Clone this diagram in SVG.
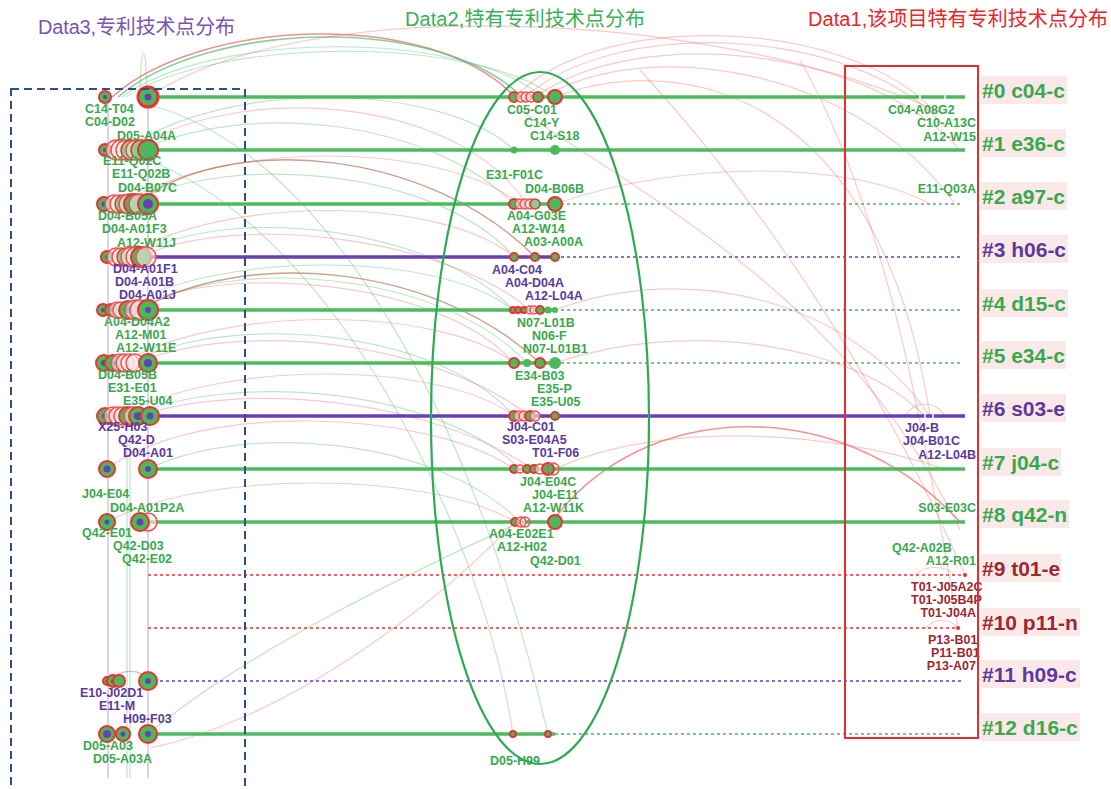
<svg xmlns="http://www.w3.org/2000/svg" width="1111" height="789" viewBox="0 0 1111 789">
<defs>
<style>
text{font-family:"Liberation Sans","Noto Sans CJK SC",sans-serif}
.lb{font-size:12.5px;font-weight:bold}
.e{text-anchor:end}
.g{fill:#3aa84e}.p{fill:#5b3a9e}.d{fill:#9b2a30}
.ttl{font-size:20px}
.rl{font-size:21px;font-weight:bold}
.rb{fill:#fbe6e6;fill-opacity:.92}
.n{fill:#4cb85c;stroke:#ee3030;stroke-width:2}
.rg{fill:#86cf90;stroke:#ee3030;stroke-width:1.5}
.r{fill:#fde9e9;fill-opacity:.6;stroke:#f05050;stroke-width:1.5}
.c{fill:#6a3fb4}
.ag{fill:none;stroke:#5cc07a;stroke-opacity:.4;stroke-width:1.2}
.ar{fill:none;stroke:#f06868;stroke-opacity:.35;stroke-width:1.2}
.ab{fill:none;stroke:#a0522d;stroke-opacity:.55;stroke-width:1.4}
.vl{stroke:#b79fdc;stroke-opacity:.7;stroke-width:1.3}
.vg{stroke:#8fd39c;stroke-opacity:.6;stroke-width:1.2}
.sg{stroke:#4cbb5c;stroke-width:3.5}
.sp{stroke:#6a3fb4;stroke-width:3.5}
.dg{stroke:#4cbb5c;stroke-width:1.6;stroke-dasharray:3 3}
.dp{stroke:#6a3fb4;stroke-width:1.6;stroke-dasharray:3 3}
.dr{stroke:#ee3030;stroke-width:1.6;stroke-dasharray:3 3}
</style>
</defs>
<rect width="1111" height="789" fill="#fff"/>

<g id="titles">
<text class="ttl" x="38" y="34" fill="#7b55b0" textLength="197">Data3,专利技术点分布</text>
<text class="ttl" x="405" y="26" fill="#3ab05a" textLength="240">Data2,特有专利技术点分布</text>
<text class="ttl" x="808" y="26" fill="#e8262a" textLength="300">Data1,该项目特有专利技术点分布</text>
</g>

<g id="connectors">
<line class="vl" x1="108" y1="100" x2="108" y2="778"/>
<line class="vl" x1="148" y1="100" x2="148" y2="778"/>
<line class="vg" x1="127" y1="440" x2="127" y2="778"/>
<line class="vg" x1="130" y1="440" x2="130" y2="778"/>
<path class="ag" d="M140 92 C141 40 146 40 147 92"/>
<path class="ar" style="stroke-opacity:.75;stroke-width:1.6" d="M112 97 C200 18 430 8 515 97"/>
<path class="ag" style="stroke-opacity:.75;stroke-width:1.6" d="M118 97 C205 22 435 12 522 97"/>
<path class="ag" d="M122 97 C210 32 460 28 543 97"/>
<path class="ag" d="M126 97 C215 38 470 34 555 97"/>
<path class="ar" d="M148 97 C300 -5 700 5 940 112"/>
<path class="ag" d="M125 150 C220 80 440 80 514 150"/>
<path class="ar" d="M132 150 C230 85 450 90 527 204"/>
<path class="ag" d="M140 150 C250 100 430 120 514 204"/>
<path class="ar" d="M122 204 C220 140 440 140 520 204"/>
<path class="ag" d="M130 204 C230 150 440 170 514 257"/>
<path class="ab" d="M135 204 C230 130 430 150 535 257"/>
<path class="ar" d="M125 257 C220 195 440 195 514 257"/>
<path class="ag" d="M133 257 C230 200 440 230 513 310"/>
<path class="ar" d="M140 257 C240 210 450 240 530 310"/>
<path class="ag" d="M118 310 C215 250 440 250 513 310"/>
<path class="ar" d="M125 310 C225 260 440 280 514 363"/>
<path class="ag" d="M135 310 C230 255 440 270 527 363"/>
<path class="ab" d="M140 310 C240 250 430 260 540 363"/>
<path class="ar" d="M122 363 C220 305 440 305 514 363"/>
<path class="ag" d="M130 363 C230 310 440 330 514 416"/>
<path class="ar" d="M137 363 C240 320 430 340 530 416"/>
<path class="ar" d="M120 416 C220 360 440 360 514 416"/>
<path class="ag" d="M130 416 C240 370 440 390 520 469"/>
<path class="ar" d="M138 416 C250 380 430 400 533 469"/>
<path class="ar" d="M107 469 C200 400 430 410 514 469"/>
<path class="ag" d="M148 469 C250 420 440 440 520 522"/>
<path class="ar" d="M107 522 C200 470 430 470 515 522"/>
<path class="ag" d="M150 105 C320 150 470 400 548 734"/>
<path class="ag" d="M148 160 C330 230 480 520 513 734"/>
<path class="ag" d="M148 734 C260 640 440 560 520 522"/>
<path class="ar" d="M150 748 C280 720 420 620 515 522"/>
<path class="vl" style="fill:none" d="M113 681 C118 668 143 668 148 681"/>
<path class="ar" d="M515 97 C600 8 850 18 935 112"/>
<path class="ar" d="M525 97 C620 14 860 28 945 127"/>
<path class="ar" d="M535 97 C640 22 870 48 960 150"/>
<path class="ar" d="M543 97 C650 34 860 70 955 204"/>
<path class="ar" d="M555 97 C680 50 880 90 930 416"/>
<path class="ar" d="M520 110 C650 200 850 300 960 530"/>
<path class="ar" d="M640 70 C760 200 880 380 965 575"/>
<path class="ar" d="M800 60 C880 200 920 400 958 628"/>
<path class="ar" d="M555 204 C680 160 850 160 930 204"/>
<path class="ar" d="M555 310 C690 260 850 300 930 416"/>
<path class="ar" d="M555 363 C680 320 850 340 925 416"/>
<path class="ar" style="stroke-opacity:.7;stroke-width:1.6" d="M552 522 C640 400 840 390 960 522"/>
<path class="ar" d="M555 469 C660 420 830 430 945 469"/>
<path class="ar" d="M905 416 C915 400 935 400 945 416"/>
<path class="ar" d="M915 575 C925 565 945 565 955 575"/>
<path class="ar" d="M925 628 C935 618 950 618 958 628"/>
<line class="sg" x1="148" y1="97" x2="965" y2="97"/>
<line class="sg" x1="148" y1="150" x2="965" y2="150"/>
<line class="sg" x1="148" y1="204" x2="555" y2="204"/><line class="dg" x1="555" y1="204" x2="962" y2="204"/>
<line class="sp" x1="148" y1="257" x2="555" y2="257"/><line class="dp" x1="555" y1="257" x2="962" y2="257"/>
<line class="sg" x1="148" y1="310" x2="555" y2="310"/><line class="dg" x1="555" y1="310" x2="962" y2="310"/>
<line class="sg" x1="148" y1="363" x2="555" y2="363"/><line class="dg" x1="555" y1="363" x2="962" y2="363"/>
<line class="sp" x1="148" y1="416" x2="965" y2="416"/>
<line class="sg" x1="148" y1="469" x2="965" y2="469"/>
<line class="sg" x1="148" y1="522" x2="965" y2="522"/>
<line class="dr" x1="148" y1="575" x2="965" y2="575"/>
<line class="dr" x1="148" y1="628" x2="960" y2="628"/>
<line class="dp" x1="148" y1="681" x2="962" y2="681"/>
<line class="sg" x1="148" y1="734" x2="555" y2="734"/><line class="dg" x1="555" y1="734" x2="962" y2="734"/>
<g stroke="#fff" stroke-width="1.5"><line x1="920" y1="95" x2="920" y2="99"/><line x1="945" y1="95" x2="945" y2="99"/><line x1="925" y1="414" x2="925" y2="418"/><line x1="933" y1="414" x2="933" y2="418"/></g>
<circle cx="965" cy="575" r="2" fill="#ee3030"/><circle cx="958" cy="628" r="2" fill="#ee3030"/>
</g>

<g id="n-L0">
<circle class="n" cx="105" cy="97" r="6"/><circle class="c" cx="105" cy="97" r="2"/>
<circle class="n" cx="148" cy="97" r="10" style="stroke-width:3"/><circle class="c" cx="148" cy="97" r="3.5"/>
<text class="lb g" x="85" y="113">C14-T04</text><text class="lb g" x="85" y="126">C04-D02</text><text class="lb g" x="117" y="140">D05-A04A</text>
</g>
<g id="n-L1">
<circle class="n" cx="105" cy="150" r="6"/><circle class="c" cx="105" cy="150" r="2"/>
<circle class="r" cx="116" cy="150" r="10"/><circle class="r" cx="121" cy="150" r="10"/><circle class="r" cx="126" cy="150" r="10"/><circle class="rg" cx="131" cy="150" r="10"/><circle class="r" cx="136" cy="150" r="10"/><circle class="rg" cx="141" cy="150" r="10"/><circle class="n" cx="148" cy="150" r="10"/>
<text class="lb g" x="103" y="165">E11-Q02C</text><text class="lb g" x="112" y="178">E11-Q02B</text><text class="lb g" x="118" y="192">D04-B07C</text>
</g>
<g id="n-L2">
<circle class="n" cx="104" cy="204" r="7"/><circle class="c" cx="104" cy="204" r="2.5"/>
<circle class="r" cx="114" cy="204" r="9"/><circle class="r" cx="119" cy="204" r="9"/><circle class="rg" cx="124" cy="204" r="9"/><circle class="r" cx="129" cy="204" r="10"/><circle class="n" cx="134" cy="204" r="10"/><circle class="r" cx="139" cy="204" r="10"/>
<circle class="n" cx="148" cy="204" r="10"/><circle class="c" cx="148" cy="204" r="5"/>
<text class="lb g" x="98" y="220">D04-B05A</text><text class="lb g" x="102" y="233">D04-A01F3</text><text class="lb g" x="117" y="247">A12-W11J</text>
</g>
<g id="n-L3">
<circle class="n" cx="107" cy="257" r="6"/><circle class="c" cx="107" cy="257" r="2"/>
<circle class="r" cx="116" cy="257" r="9"/><circle class="r" cx="121" cy="257" r="9"/><circle class="rg" cx="126" cy="257" r="9"/><circle class="r" cx="131" cy="257" r="10"/><circle class="r" cx="136" cy="257" r="10"/><circle class="n" cx="141" cy="257" r="10"/><circle class="r" cx="146" cy="257" r="10"/>
<text class="lb p" x="113" y="273">D04-A01F1</text><text class="lb p" x="115" y="286">D04-A01B</text><text class="lb p" x="119" y="299">D04-A01J</text>
</g>
<g id="n-L4">
<circle class="n" cx="103" cy="310" r="6"/><circle class="c" cx="103" cy="310" r="2"/>
<circle class="n" cx="111" cy="310" r="6"/><circle class="c" cx="111" cy="310" r="2"/>
<circle class="r" cx="117" cy="310" r="8"/><circle class="r" cx="121" cy="310" r="8"/>
<circle class="n" cx="128" cy="310" r="9"/><circle class="c" cx="128" cy="310" r="3"/>
<circle class="r" cx="135" cy="310" r="10"/><circle class="r" cx="140" cy="310" r="10"/>
<circle class="n" cx="148" cy="310" r="10"/><circle class="c" cx="148" cy="310" r="3"/>
<text class="lb g" x="104" y="326">A04-D04A2</text><text class="lb g" x="115" y="339">A12-M01</text><text class="lb g" x="116" y="352">A12-W11E</text>
</g>
<g id="n-L5">
<circle class="n" cx="104" cy="363" r="8"/><circle class="c" cx="104" cy="363" r="3"/>
<circle class="n" cx="113" cy="363" r="8"/><circle class="c" cx="113" cy="363" r="2.5"/>
<circle class="r" cx="120" cy="363" r="9"/><circle class="r" cx="125" cy="363" r="9"/><circle class="r" cx="130" cy="363" r="9"/><circle class="r" cx="135" cy="363" r="9"/>
<circle class="n" cx="148" cy="363" r="9"/><circle class="c" cx="148" cy="363" r="4"/>
<text class="lb g" x="98" y="379">D04-B05B</text><text class="lb g" x="108" y="392">E31-E01</text><text class="lb g" x="123" y="405">E35-U04</text>
</g>
<g id="n-L6">
<circle class="n" cx="105" cy="416" r="8"/><circle class="c" cx="105" cy="416" r="3"/>
<circle class="r" cx="113" cy="416" r="9"/><circle class="r" cx="118" cy="416" r="9"/><circle class="r" cx="123" cy="416" r="9"/>
<circle class="n" cx="128" cy="416" r="9"/><circle class="r" cx="133" cy="416" r="9"/>
<circle class="n" cx="138" cy="416" r="9"/><circle class="c" cx="138" cy="416" r="4"/>
<circle class="n" cx="150" cy="416" r="9"/><circle class="c" cx="150" cy="416" r="3.5"/>
<text class="lb p" x="98" y="431">X25-H03</text><text class="lb p" x="118" y="444">Q42-D</text><text class="lb p" x="123" y="457">D04-A01</text>
</g>
<g id="n-L7">
<circle class="n" cx="107" cy="469" r="8"/><circle class="c" cx="107" cy="469" r="3.5"/>
<circle class="n" cx="148" cy="469" r="9"/><circle class="c" cx="148" cy="469" r="3"/>
<text class="lb g" x="82" y="498">J04-E04</text><text class="lb g" x="110" y="512">D04-A01P2A</text>
</g>
<g id="n-L8">
<circle class="n" cx="107" cy="522" r="8"/><circle class="c" cx="107" cy="522" r="2.5"/>
<circle class="r" cx="148" cy="522" r="9"/>
<circle class="n" cx="140" cy="522" r="9"/><circle class="c" cx="140" cy="522" r="3.5"/>
<text class="lb g" x="82" y="537">Q42-E01</text><text class="lb g" x="113" y="550">Q42-D03</text><text class="lb g" x="122" y="563">Q42-E02</text>
</g>
<g id="n-L11">
<circle class="n" cx="107" cy="681" r="4"/><circle class="c" cx="107" cy="681" r="1.5"/>
<circle class="n" cx="113" cy="681" r="6"/><circle class="c" cx="113" cy="681" r="2"/>
<circle class="n" cx="119" cy="681" r="6"/>
<circle class="n" cx="148" cy="681" r="9"/><circle class="c" cx="148" cy="681" r="3"/>
<text class="lb p" x="80" y="697">E10-J02D1</text><text class="lb p" x="99" y="710">E11-M</text><text class="lb p" x="123" y="723">H09-F03</text>
</g>
<g id="n-L12">
<circle class="n" cx="107" cy="734" r="8"/><circle class="c" cx="107" cy="734" r="4"/>
<circle class="n" cx="123" cy="734" r="7"/><circle class="c" cx="123" cy="734" r="2.5"/>
<circle class="n" cx="148" cy="734" r="9"/><circle class="c" cx="148" cy="734" r="3"/>
<text class="lb g" x="83" y="750">D05-A03</text><text class="lb g" x="93" y="763">D05-A03A</text>
</g>

<g id="n-M0">
<circle class="n" cx="514" cy="97" r="5"/><circle class="r" cx="521" cy="97" r="5"/><circle class="r" cx="526" cy="97" r="5"/><circle class="r" cx="531" cy="97" r="5"/><circle class="n" cx="538" cy="97" r="5"/><circle class="n" cx="555" cy="97" r="7"/>
<text class="lb g" x="507" y="114">C05-C01</text><text class="lb g" x="524" y="127">C14-Y</text><text class="lb g" x="530" y="140">C14-S18</text>
</g>
<g id="n-M1">
<circle cx="514" cy="150" r="3.5" fill="#4cb85c"/><circle cx="555" cy="150" r="5" fill="#4cb85c"/>
<text class="lb g" x="486" y="179">E31-F01C</text><text class="lb g" x="525" y="193">D04-B06B</text>
</g>
<g id="n-M2">
<circle class="n" cx="514" cy="204" r="5"/><circle class="r" cx="520" cy="204" r="5"/><circle class="r" cx="525" cy="204" r="5"/><circle class="r" cx="530" cy="204" r="5"/><circle class="rg" cx="535" cy="204" r="5"/><circle class="n" cx="555" cy="204" r="7"/>
<text class="lb g" x="507" y="220">A04-G03E</text><text class="lb g" x="512" y="233">A12-W14</text><text class="lb g" x="524" y="246">A03-A00A</text>
</g>
<g id="n-M3">
<circle class="n" cx="514" cy="257" r="4"/><circle class="n" cx="535" cy="257" r="4"/><circle class="n" cx="555" cy="257" r="4"/>
<text class="lb p" x="492" y="274">A04-C04</text><text class="lb p" x="505" y="287">A04-D04A</text><text class="lb p" x="525" y="300">A12-L04A</text>
</g>
<g id="n-M4">
<circle class="n" cx="513" cy="310" r="3"/><circle class="n" cx="518" cy="310" r="3"/><circle class="n" cx="524" cy="310" r="3"/><circle class="r" cx="530" cy="310" r="4"/><circle class="r" cx="534" cy="310" r="4"/><circle class="n" cx="540" cy="310" r="4"/><circle cx="548" cy="310" r="3.5" fill="#4cb85c"/><circle cx="555" cy="310" r="3" fill="#4cb85c"/>
<text class="lb g" x="517" y="327">N07-L01B</text><text class="lb g" x="532" y="340">N06-F</text><text class="lb g" x="523" y="353">N07-L01B1</text>
</g>
<g id="n-M5">
<circle class="n" cx="514" cy="363" r="5"/><circle cx="527" cy="363" r="4" fill="#4cb85c"/><circle class="n" cx="540" cy="363" r="5"/><circle cx="555" cy="363" r="6" fill="#4cb85c"/>
<text class="lb g" x="515" y="380">E34-B03</text><text class="lb g" x="537" y="393">E35-P</text><text class="lb g" x="531" y="406">E35-U05</text>
</g>
<g id="n-M6">
<circle class="n" cx="514" cy="416" r="5"/><circle class="r" cx="519" cy="416" r="5"/><circle class="r" cx="524" cy="416" r="5"/><circle class="n" cx="530" cy="416" r="5"/><circle class="r" cx="535" cy="416" r="5"/><circle class="n" cx="555" cy="416" r="4"/>
<text class="lb p" x="507" y="431">J04-C01</text><text class="lb p" x="502" y="444">S03-E04A5</text><text class="lb p" x="532" y="457">T01-F06</text>
</g>
<g id="n-M7">
<circle class="n" cx="514" cy="469" r="4"/><circle class="r" cx="520" cy="469" r="4"/><circle class="n" cx="527" cy="469" r="4"/><circle class="n" cx="534" cy="469" r="4"/><circle class="r" cx="540" cy="469" r="5"/><circle class="n" cx="548" cy="469" r="6"/><circle class="r" cx="553" cy="469" r="6" style="fill:none"/>
<text class="lb g" x="520" y="486">J04-E04C</text><text class="lb g" x="532" y="499">J04-E11</text><text class="lb g" x="523" y="512">A12-W11K</text>
</g>
<g id="n-M8">
<circle class="n" cx="515" cy="522" r="4"/><circle class="r" cx="521" cy="522" r="5"/><circle class="r" cx="525" cy="522" r="5" style="fill:none"/><circle class="n" cx="555" cy="522" r="7"/>
<text class="lb g" x="489" y="538">A04-E02E1</text><text class="lb g" x="497" y="551">A12-H02</text><text class="lb g" x="530" y="565">Q42-D01</text>
</g>
<g id="n-M12">
<circle class="n" cx="513" cy="734" r="3"/><circle class="n" cx="548" cy="734" r="3"/>
<text class="lb g" x="490" y="765">D05-H99</text>
</g>

<g id="n-R">
<text class="lb g" x="888" y="114">C04-A08G2</text><text class="lb g" x="917" y="127">C10-A13C</text><text class="lb g e" x="976" y="141">A12-W15</text>
<text class="lb g e" x="976" y="193">E11-Q03A</text>
<text class="lb p" x="905" y="432">J04-B</text><text class="lb p" x="903" y="445">J04-B01C</text><text class="lb p e" x="976" y="459">A12-L04B</text>
<text class="lb g e" x="976" y="512">S03-E03C</text>
<text class="lb g" x="892" y="552">Q42-A02B</text><text class="lb g e" x="976" y="565">A12-R01</text>
<text class="lb d" x="911" y="591">T01-J05A2C</text><text class="lb d" x="911" y="604">T01-J05B4P</text><text class="lb d e" x="976" y="617">T01-J04A</text>
<text class="lb d" x="928" y="644">P13-B01</text><text class="lb d" x="931" y="657">P11-B01</text><text class="lb d e" x="976" y="670">P13-A07</text>
</g>

<rect id="data3-box" x="11" y="89" width="234" height="712" fill="none" stroke="#2f4f87" stroke-width="2" stroke-dasharray="8 5"/>
<ellipse id="data2-ellipse" cx="540" cy="418" rx="109" ry="346" fill="none" stroke="#2eaa55" stroke-width="2.2"/>
<rect id="data1-box" x="845" y="66" width="133" height="672" fill="none" stroke="#ee2b2b" stroke-width="2"/>

<g id="row-labels">
<rect class="rb" x="981" y="76" width="86" height="28"/><text class="rl g" x="982" y="97.5">#0 c04-c</text>
<rect class="rb" x="981" y="129" width="85" height="28"/><text class="rl g" x="982" y="150.5">#1 e36-c</text>
<rect class="rb" x="981" y="182" width="86" height="28"/><text class="rl g" x="982" y="203.5">#2 a97-c</text>
<rect class="rb" x="981" y="235" width="87" height="28"/><text class="rl p" x="982" y="256.5">#3 h06-c</text>
<rect class="rb" x="981" y="289" width="87" height="28"/><text class="rl g" x="982" y="310.5">#4 d15-c</text>
<rect class="rb" x="981" y="341" width="85" height="28"/><text class="rl g" x="982" y="362.5">#5 e34-c</text>
<rect class="rb" x="981" y="394" width="85" height="28"/><text class="rl p" x="982" y="415.5">#6 s03-e</text>
<rect class="rb" x="981" y="448" width="80" height="28"/><text class="rl g" x="982" y="469.5">#7 j04-c</text>
<rect class="rb" x="981" y="500" width="88" height="28"/><text class="rl g" x="982" y="521.5">#8 q42-n</text>
<rect class="rb" x="981" y="554" width="80" height="28"/><text class="rl d" x="982" y="575.5">#9 t01-e</text>
<rect class="rb" x="981" y="608" width="99" height="28"/><text class="rl d" x="982" y="629.5">#10 p11-n</text>
<rect class="rb" x="981" y="660" width="99" height="28"/><text class="rl p" x="982" y="681.5">#11 h09-c</text>
<rect class="rb" x="981" y="713" width="99" height="28"/><text class="rl g" x="982" y="734.5">#12 d16-c</text>
</g>
</svg>
